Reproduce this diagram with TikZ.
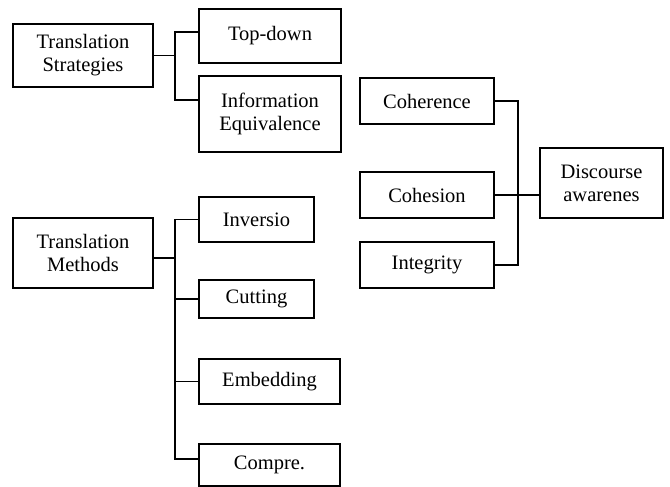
\documentclass[tikz,border=0pt]{standalone}
\usepackage{fontspec}
\setmainfont{Liberation Serif}
\usepackage{tikz}

\begin{document}
\begin{tikzpicture}[x=1pt,y=-1pt,line width=1.8pt,
  box node/.style={draw,inner sep=0pt,align=center,
    font=\fontsize{20.5}{23}\selectfont}]

  \useasboundingbox (0,0) rectangle (670,487);

  % strategies
  \node[box node,minimum width=140,minimum height=63] (ts) at (83,55.5) {Translation\\Strategies};
  \node[box node,minimum width=142,minimum height=54] (td) at (270,36) {Top-down};
  \node[box node,minimum width=142,minimum height=76] (ie) at (270,114) {Information\\Equivalence};

  % methods
  \node[box node,minimum width=140,minimum height=70] (tm) at (83,253) {Translation\\Methods};
  \node[box node,minimum width=115,minimum height=45] (inv) at (256.5,219.5) {Inversio};
  \node[box node,minimum width=115,minimum height=38] (cut) at (256.5,299) {Cutting};
  \node[box node,minimum width=141,minimum height=45] (emb) at (269.5,381.5) {Embedding};
  \node[box node,minimum width=141,minimum height=42] (comp) at (269.5,465) {Compre.};

  % discourse
  \node[box node,minimum width=134,minimum height=46] (coh) at (427,101) {Coherence};
  \node[box node,minimum width=134,minimum height=46] (cos) at (427,195) {Cohesion};
  \node[box node,minimum width=134,minimum height=46] (integ) at (427,265) {Integrity};
  \node[box node,minimum width=123,minimum height=70] (da) at (601.5,183) {Discourse\\awarenes};

  \coordinate (sj) at (175,55.5);
  \coordinate (mj) at (175,258);
  \coordinate (dj) at (518,195);

  \draw (ts.east) -- (sj);
  \draw ([yshift=4pt]td.west) -| (sj) |- ([yshift=14pt]ie.west);

  \draw ([yshift=-5pt]tm.east) -- (mj);
  \draw (inv.west) -| (mj) |- ([yshift=6pt]comp.west);
  \draw (mj |- cut.west) -- (cut.west);
  \draw (mj |- emb.west) -- (emb.west);

  \draw (coh.east) -| (dj) |- (integ.east);
  \draw (cos.east) -- (dj) -- ([yshift=-12pt]da.west);
\end{tikzpicture}
\end{document}
